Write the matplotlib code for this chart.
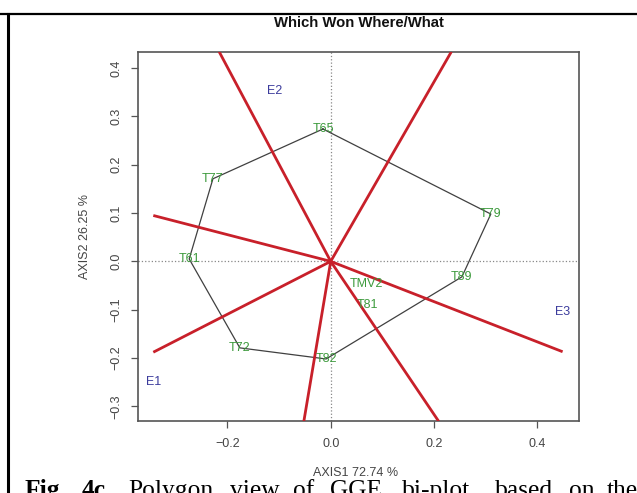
import matplotlib
matplotlib.use("Agg")
import matplotlib.pyplot as plt
from matplotlib.lines import Line2D

# ---------------- data ----------------
genotypes = ["T65", "T77", "T61", "T72", "T82", "T89", "T79", "TMV2", "T81"]
gen_x = [-0.015, -0.228, -0.274, -0.176, -0.009, 0.254, 0.310, 0.070, 0.071]
gen_y = [0.274, 0.171, 0.005, -0.179, -0.202, -0.032, 0.098, -0.047, -0.090]

hull_order = ["T65", "T79", "T89", "T82", "T72", "T61", "T77", "T65"]

environments = ["E1", "E2", "E3"]
env_x = [-0.342, -0.108, 0.448]
env_y = [-0.249, 0.353, -0.105]

# end points of the sector rays drawn from the origin
ray_x = [-0.216, 0.2336, -0.3435, -0.3435, -0.052, 0.209, 0.449]
ray_y = [0.434, 0.434, 0.095, -0.188, -0.331, -0.331, -0.187]

x_ticks = [-0.2, 0.0, 0.2, 0.4]
y_ticks = [-0.3, -0.2, -0.1, 0.0, 0.1, 0.2, 0.3, 0.4]

title = "Which Won Where/What"
xlabel = "AXIS1 72.74 %"
ylabel = "AXIS2 26.25 %"

caption_words = ["Fig.", "4c.", "Polygon", "view", "of", "GGE", "bi-plot",
                 "based", "on", "the"]
caption_bold = [True, True, False, False, False, False, False, False, False, False]
caption_x_px = [25, 82, 128, 230, 293, 330, 402, 495, 569, 607]

# ---------------- figure ----------------
W, H = 637, 493
fig = plt.figure(figsize=(W / 100, H / 100), dpi=100)
fig.patch.set_facecolor("white")

ax_l, ax_r, ax_t, ax_b = 137.7, 579.3, 51.7, 421.3
ax = fig.add_axes([ax_l / W, (H - ax_b) / H, (ax_r - ax_l) / W, (ax_b - ax_t) / H])

ax.set_xlim(-0.3737, 0.4813)
ax.set_ylim(-0.331, 0.434)

# reference dotted axes
ax.axhline(0, color="#888888", linestyle=":", linewidth=0.9, zorder=1)
ax.axvline(0, color="#888888", linestyle=":", linewidth=0.9, zorder=1)

# polygon
idx = {g: i for i, g in enumerate(genotypes)}
hx = [gen_x[idx[g]] for g in hull_order]
hy = [gen_y[idx[g]] for g in hull_order]
ax.plot(hx, hy, color="#404040", linewidth=0.9, zorder=2)

# sector rays
for x, y in zip(ray_x, ray_y):
    ax.plot([0, x], [0, y], color="#c8202a", linewidth=2.0, zorder=3,
            solid_capstyle="butt")

# labels
green = "#3c9a3c"
blue = "#3b3b9c"
for g, x, y in zip(genotypes, gen_x, gen_y):
    ax.text(x, y, g, color=green, fontsize=9, ha="center", va="center",
            family="Liberation Sans", zorder=4)
for e, x, y in zip(environments, env_x, env_y):
    ax.text(x, y, e, color=blue, fontsize=9, ha="center", va="center",
            family="Liberation Sans", zorder=4)

# axes styling
for s in ax.spines.values():
    s.set_color("#555555")
    s.set_linewidth(1.2)
ax.set_xticks(x_ticks)
ax.set_xticklabels([f"{v:.1f}".replace("-", "\u2212") for v in x_ticks])
ax.set_yticks(y_ticks)
ax.set_yticklabels([f"{v:.1f}".replace("-", "\u2212") for v in y_ticks],
                   rotation=90, va="center")
ax.tick_params(axis="both", length=5, width=0.9, color="#555555",
               labelcolor="#444444", labelsize=9)
ax.tick_params(axis="x", pad=7)
ax.tick_params(axis="y", pad=6)
for lab in ax.get_xticklabels() + ax.get_yticklabels():
    lab.set_family("Liberation Sans")

# title & axis labels (placed in figure pixels)
fig.text(358.5 / W, (H - 22.7) / H, title, ha="center", va="center",
         fontsize=10.7, fontweight="bold", family="Liberation Sans", color="#111111")
fig.text(356 / W, (H - 472.7) / H, xlabel, ha="center", va="center",
         fontsize=9, family="Liberation Sans", color="#444444")
fig.text(85 / W, (H - 236.5) / H, ylabel, ha="center", va="center", rotation=90,
         fontsize=9, family="Liberation Sans", color="#444444")

# table-cell border
fig.add_artist(Line2D([0, 1], [(H - 14) / H, (H - 14) / H], transform=fig.transFigure,
                      color="black", linewidth=1.6))
fig.add_artist(Line2D([7.5 / W, 7.5 / W], [0, (H - 14) / H], transform=fig.transFigure,
                      color="black", linewidth=2.2))

# caption (cut at the bottom edge)
for w, b, xp in zip(caption_words, caption_bold, caption_x_px):
    fig.text(xp / W, (H - 497) / H, w, ha="left", va="baseline",
             fontsize=18.4, family="Liberation Serif",
             fontweight="bold" if b else "normal", color="black")

fig.savefig("out.png", dpi=100)
